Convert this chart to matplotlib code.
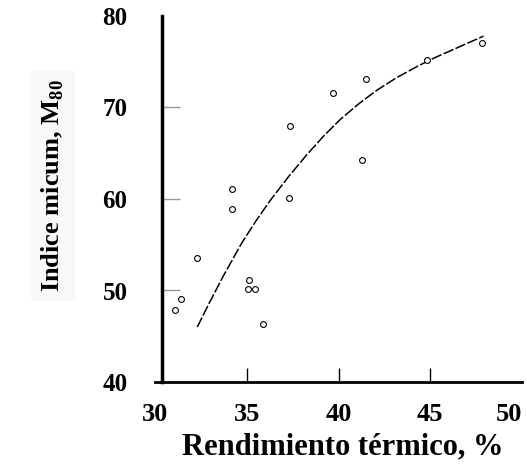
import matplotlib
matplotlib.use("Agg")
import matplotlib.pyplot as plt

# Measured points: thermal efficiency (%) vs. Micum index M80
eff = [31.1, 31.4, 32.3, 34.2, 34.2, 35.1, 35.05, 35.45, 35.9, 37.35, 37.3, 39.7, 41.5, 41.3, 44.8, 47.8]
micum = [47.9, 49.1, 53.6, 61.1, 58.9, 51.2, 50.2, 50.2, 46.3, 68.0, 60.1, 71.6, 73.1, 64.3, 75.2, 77.1]

# Trend curve
trend_x = [32.3, 33.0, 33.7, 34.7, 35.5, 36.3, 37.3, 38.3, 39.2, 40.1, 41.1, 42.1, 43.2, 44.3, 45.2, 46.1, 47.0, 47.9]
trend_y = [46.0, 48.8, 51.5, 55.1, 57.6, 59.9, 62.5, 64.9, 66.9, 68.7, 70.4, 71.9, 73.3, 74.5, 75.4, 76.2, 77.0, 77.8]

xticks = [30, 35, 40, 45, 50]
yticks = [40, 50, 60, 70, 80]

plt.rcParams['font.family'] = ['Liberation Serif', 'DejaVu Serif']
plt.rcParams['mathtext.fontset'] = 'custom'
plt.rcParams['mathtext.rm'] = 'Liberation Serif:bold'
plt.rcParams['mathtext.bf'] = 'Liberation Serif:bold'

fig = plt.figure(figsize=(5.27, 4.65), dpi=100)
ax = fig.add_axes([155 / 527, (465 - 382) / 465, (522 - 155) / 527, (382 - 16) / 465])

ax.spines['top'].set_visible(False)
ax.spines['right'].set_visible(False)
ax.spines['left'].set_position(('data', 30.4))
ax.spines['left'].set_linewidth(2.5)
ax.spines['bottom'].set_linewidth(2.0)

ax.plot(trend_x, trend_y, color='black', lw=1.1, dashes=(7, 1.5))
ax.plot(eff, micum, linestyle='none', marker='o', markersize=4.2,
        markerfacecolor='white', markeredgecolor='black', markeredgewidth=0.8)

ax.set_xlim(30, 50)
ax.set_ylim(40, 80)
ax.set_xticks(xticks)
ax.set_yticks(yticks)
ax.set_xticklabels([str(v) for v in xticks], fontsize=19, fontweight='bold')
ax.set_yticklabels([str(v) for v in yticks], fontsize=18, fontweight='bold')
ax.get_xticklabels()[-1].set_horizontalalignment('right')

ax.tick_params(axis='x', direction='in', length=10, width=1, color='black', pad=15)
ax.tick_params(axis='y', direction='in', length=13, width=1, color='#999999', pad=25)
for t in (ax.xaxis.get_major_ticks()[0], ax.xaxis.get_major_ticks()[-1],
          ax.yaxis.get_major_ticks()[0], ax.yaxis.get_major_ticks()[-1]):
    t.tick1line.set_visible(False)

ax.set_xlabel('Rendimiento térmico, %', fontsize=22, fontweight='bold', labelpad=4)
ax.xaxis.set_label_coords((343 - 155) / (522 - 155), -(447 - 382) / 366)
ax.xaxis.label.set_va('center')
fig.text(53 / 527, 1 - 186 / 465, r'Indice micum, M$_{\mathbf{80}}$', rotation=90,
         ha='center', va='center', fontsize=19, fontweight='bold',
         bbox=dict(facecolor='#f8f8f8', edgecolor='none', pad=6))

fig.savefig('out.png', dpi=100, facecolor='white')
